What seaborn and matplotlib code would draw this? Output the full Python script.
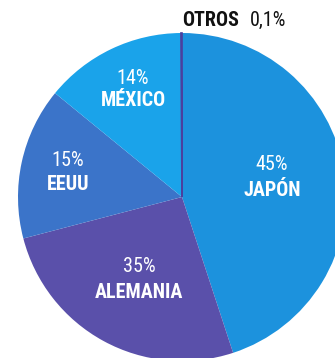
import matplotlib
matplotlib.use("Agg")
import matplotlib.pyplot as plt
import seaborn as sns

# data (wedge sizes as drawn, labels as printed)
countries = ["JAPÓN", "ALEMANIA", "EEUU", "MÉXICO", "OTROS"]
shares = [45, 26, 15, 14, 0.1]
pct_labels = ["45%", "35%", "15%", "14%", "0,1%"]
colors = ["#1c92dd", "#5a50aa", "#3b74c9", "#1aa3ea", "#4b3f9e"]

sns.set_theme(style="white")
plt.rcParams["font.family"] = ["Roboto Condensed", "Archivo Narrow", "Liberation Sans", "DejaVu Sans"]

H = 358
fig = plt.figure(figsize=(3.35, 3.58), dpi=100)
ax = fig.add_axes([0, 0, 1, 1])

wedges, _ = ax.pie(shares, colors=colors, startangle=90, counterclock=False,
                   center=(182, H - 197), radius=164, frame=True,
                   wedgeprops={"linewidth": 0})
wedges[-1].set_edgecolor("#4b3f9e")
wedges[-1].set_linewidth(1.2)
ax.set_xlim(0, 335)
ax.set_ylim(0, H)
ax.set_aspect("equal")
ax.axis("off")

# label spots (pixel coords from the top)
spots = [(272, 165, 191), (139, 266, 292), (68, 161, 184), (133, 79, 100)]
for (x, y1, y2), name, pct in zip(spots, countries, pct_labels):
    ax.text(x, H - y1, pct, color="white", fontsize=14.5, ha="center", va="center")
    ax.text(x, H - y2, name, color="white", fontsize=14.5, fontweight="bold",
            ha="center", va="center")

ax.text(182, H - 20, countries[-1], color="#111111", fontsize=14.5, fontweight="bold",
        ha="left", va="center")
ax.text(286, H - 20, pct_labels[-1], color="#111111", fontsize=14.5,
        ha="right", va="center")

fig.savefig("out.png", dpi=100, facecolor="white")
